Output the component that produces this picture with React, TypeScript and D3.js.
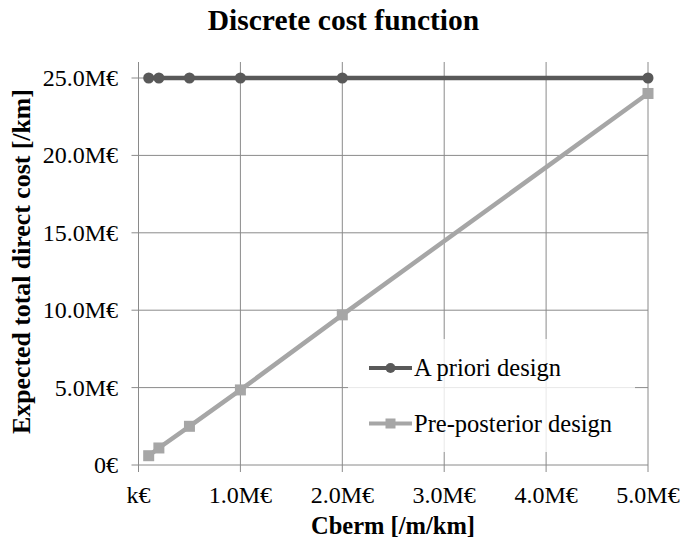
import * as d3 from 'd3'

// Cberm in M€ per m per km, costs in M€ per km
const cberm = [0.1, 0.2, 0.5, 1.0, 2.0, 5.0]
const aPriori = [25, 25, 25, 25, 25, 25]
const prePosterior = [0.6, 1.1, 2.5, 4.85, 9.7, 24.0]

const xTicks = [0, 1, 2, 3, 4, 5]
const xTickLabels = ['k€', '1.0M€', '2.0M€', '3.0M€', '4.0M€', '5.0M€']
const yTicks = [0, 5, 10, 15, 20, 25]
const yTickLabels = ['0€', '5.0M€', '10.0M€', '15.0M€', '20.0M€', '25.0M€']

const seriesNames = ['A priori design', 'Pre-posterior design']

const W = 683
const H = 543
const font = "'Liberation Serif', 'Times New Roman', 'DejaVu Serif', serif"
const gridColor = '#8a8a8a'
const darkGray = '#595959'
const lightGray = '#a6a6a6'

export default function App() {
  const x = d3.scaleLinear().domain([0, 5]).range([138.5, 648])
  const y = d3.scaleLinear().domain([0, 25]).range([465, 78])
  const plotTop = 62

  const line = d3.line<number>()
    .x((_, i) => x(cberm[i]))
    .y(d => y(d))

  return (
    <svg width={W} height={H} style={{ position: 'absolute', left: 0, top: 0, background: '#fff', fontFamily: font }}>
      <rect width={W} height={H} fill="#fff" />
      <text x={343.5} y={30} textAnchor="middle" fontSize={29.5} fontWeight="bold">Discrete cost function</text>

      {/* grid */}
      {yTicks.map(t => (
        <line key={'gy' + t} x1={131.5} x2={x(5)} y1={y(t)} y2={y(t)} stroke={gridColor} strokeWidth={1} />
      ))}
      {xTicks.map(t => (
        <line key={'gx' + t} x1={x(t)} x2={x(t)} y1={plotTop} y2={y(0) + 7} stroke={gridColor} strokeWidth={1} />
      ))}

      {/* tick labels */}
      {yTicks.map((t, i) => (
        <text key={'ly' + t} x={118} y={y(t)} dy="0.33em" textAnchor="end" fontSize={24}>{yTickLabels[i]}</text>
      ))}
      {xTicks.map((t, i) => (
        <text key={'lx' + t} x={x(t)} y={503} textAnchor="middle" fontSize={24}>{xTickLabels[i]}</text>
      ))}

      <text x={393} y={534} textAnchor="middle" fontSize={24.5} fontWeight="bold">Cberm [/m/km]</text>
      <text transform={`translate(30,${(y(0) + y(25)) / 2 - 10}) rotate(-90)`} textAnchor="middle" fontSize={25.8}
        fontWeight="bold">Expected total direct cost [/km]</text>

      {/* series */}
      <path d={line(prePosterior) || ''} fill="none" stroke={lightGray} strokeWidth={4.5} />
      {prePosterior.map((v, i) => (
        <rect key={'pp' + i} x={x(cberm[i]) - 5.5} y={y(v) - 5.5} width={11} height={11} fill={lightGray} />
      ))}
      <path d={line(aPriori) || ''} fill="none" stroke={darkGray} strokeWidth={4.5} />
      {aPriori.map((v, i) => (
        <circle key={'ap' + i} cx={x(cberm[i])} cy={y(v)} r={5.5} fill={darkGray} />
      ))}

      {/* legend */}
      <rect x={348} y={339} width={287} height={113} fill="#fff" opacity={0.8} />
      {seriesNames.map((name, i) => {
        const ly = 368 + i * 55.5
        const c = i === 0 ? darkGray : lightGray
        return (
          <g key={name}>
            <line x1={369} x2={412} y1={ly} y2={ly} stroke={c} strokeWidth={4} />
            {i === 0
              ? <circle cx={390.5} cy={ly} r={5} fill={c} />
              : <rect x={385.5} y={ly - 5} width={10} height={10} fill={c} />}
            <text x={414} y={ly + 8} fontSize={24.5}>{name}</text>
          </g>
        )
      })}
    </svg>
  )
}
